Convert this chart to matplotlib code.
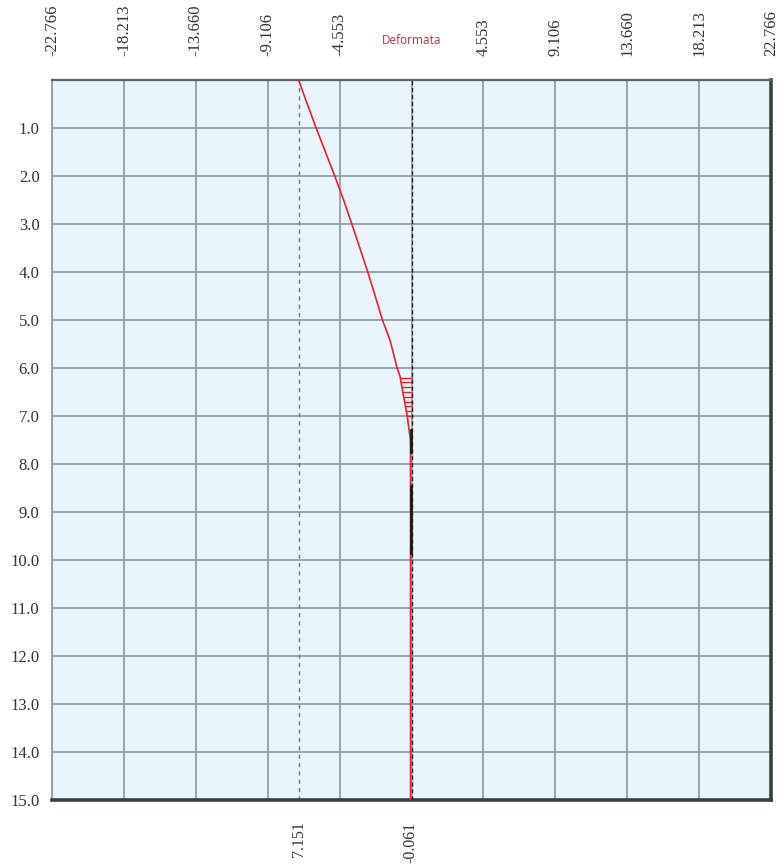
import matplotlib
matplotlib.use('Agg')
import matplotlib.pyplot as plt
import numpy as np

# asse orizzontale (spostamenti) e profondità
x_ticks = [-22.766, -18.213, -13.660, -9.106, -4.553, 0.0, 4.553, 9.106, 13.660, 18.213, 22.766]
x_labels = ['-22.766', '-18.213', '-13.660', '-9.106', '-4.553', '', '4.553', '9.106', '13.660', '18.213', '22.766']
depth_ticks = [1, 2, 3, 4, 5, 6, 7, 8, 9, 10, 11, 12, 13, 14, 15]

# deformata (profondità, spostamento)
depth = [0.0, 0.5, 1.0, 1.5, 2.0, 2.5, 3.0, 3.5, 4.0, 4.5, 5.0, 5.42, 6.0, 6.18, 6.5, 7.0, 7.5, 7.8, 15.0]
disp = [-7.151, -6.60, -6.04, -5.45, -4.86, -4.30, -3.78, -3.27, -2.77, -2.30, -1.84, -1.36, -0.91, -0.72,
        -0.55, -0.27, -0.07, -0.061, -0.061]

# tratteggio orizzontale tra deformata e asse
hatch_depth = [6.2, 6.3, 6.4, 6.5, 6.6, 6.7, 6.8, 6.9, 7.0]

# tratti neri spessi sull'asse
black_segments = [(7.3, 7.75), (8.45, 9.85)]

max_disp = -7.151
end_disp = -0.061

fig = plt.figure(figsize=(7.83, 8.66), dpi=100)
ax = fig.add_axes([52 / 783, 1 - 800 / 866, 719 / 783, 720 / 866])
ax.set_facecolor('#e8f5fc')

ax.set_xlim(-22.766, 22.766)
ax.set_ylim(15, 0)

# griglia
for xv in x_ticks[1:-1]:
    ax.axvline(xv, color='#8d979d', lw=1.2, zorder=1)
for yv in depth_ticks[:-1]:
    ax.axhline(yv, color='#8d979d', lw=1.2, zorder=1)

# linea tratteggiata sullo spostamento massimo
ax.axvline(max_disp, color='#6f777c', lw=1.0, ls=(0, (3, 3)), zorder=2)

# deformata
ax.plot(disp, depth, color='#e8232b', lw=1.2, zorder=3)
d_arr = np.array(depth)
v_arr = np.array(disp)
for hd in hatch_depth:
    xv = np.interp(hd, d_arr, v_arr)
    ax.plot([xv, 0.0], [hd, hd], color='#e8232b', lw=1.0, zorder=3)

# asse di riferimento
ax.axvline(0.0, color='#222222', lw=1.0, ls=(0, (3, 2)), zorder=4)
for y0, y1 in black_segments:
    ax.plot([-0.03, -0.03], [y0, y1], color='#1a1a1a', lw=2.0, zorder=5)

# cornice
ax.spines['left'].set_color('#8d979d')
ax.spines['left'].set_linewidth(1.3)
ax.spines['top'].set_color('#5a6064')
ax.spines['top'].set_linewidth(1.6)
for side in ['right', 'bottom']:
    ax.spines[side].set_color('#3a3f42')
    ax.spines[side].set_linewidth(2.6)

serif = ['Liberation Serif', 'DejaVu Serif']

ax.xaxis.tick_top()
ax.set_xticks(x_ticks)
ax.set_xticklabels(x_labels, rotation=90, fontsize=12, family=serif, color='#333333')
ax.tick_params(axis='x', length=0, pad=17)

ax.set_yticks(depth_ticks)
ax.set_yticklabels([f'{v:.1f}' for v in depth_ticks], fontsize=12, family=serif, color='#333333')
ax.tick_params(axis='y', length=0, pad=9)

ax.text(0.0, -0.83, 'Deformata', ha='center', va='center', fontsize=8.5,
        color='#a8383f', family=['Open Sans', 'DejaVu Sans'])

# valori in basso
ax.text(max_disp, 15.45, f'{abs(max_disp):.3f}', rotation=90, ha='center', va='top',
        fontsize=11.5, family=serif, color='#333333')
ax.text(end_disp, 15.45, f'{end_disp:.3f}', rotation=90, ha='center', va='top',
        fontsize=11.5, family=serif, color='#333333')

fig.savefig('out.png', dpi=100, facecolor='white')
